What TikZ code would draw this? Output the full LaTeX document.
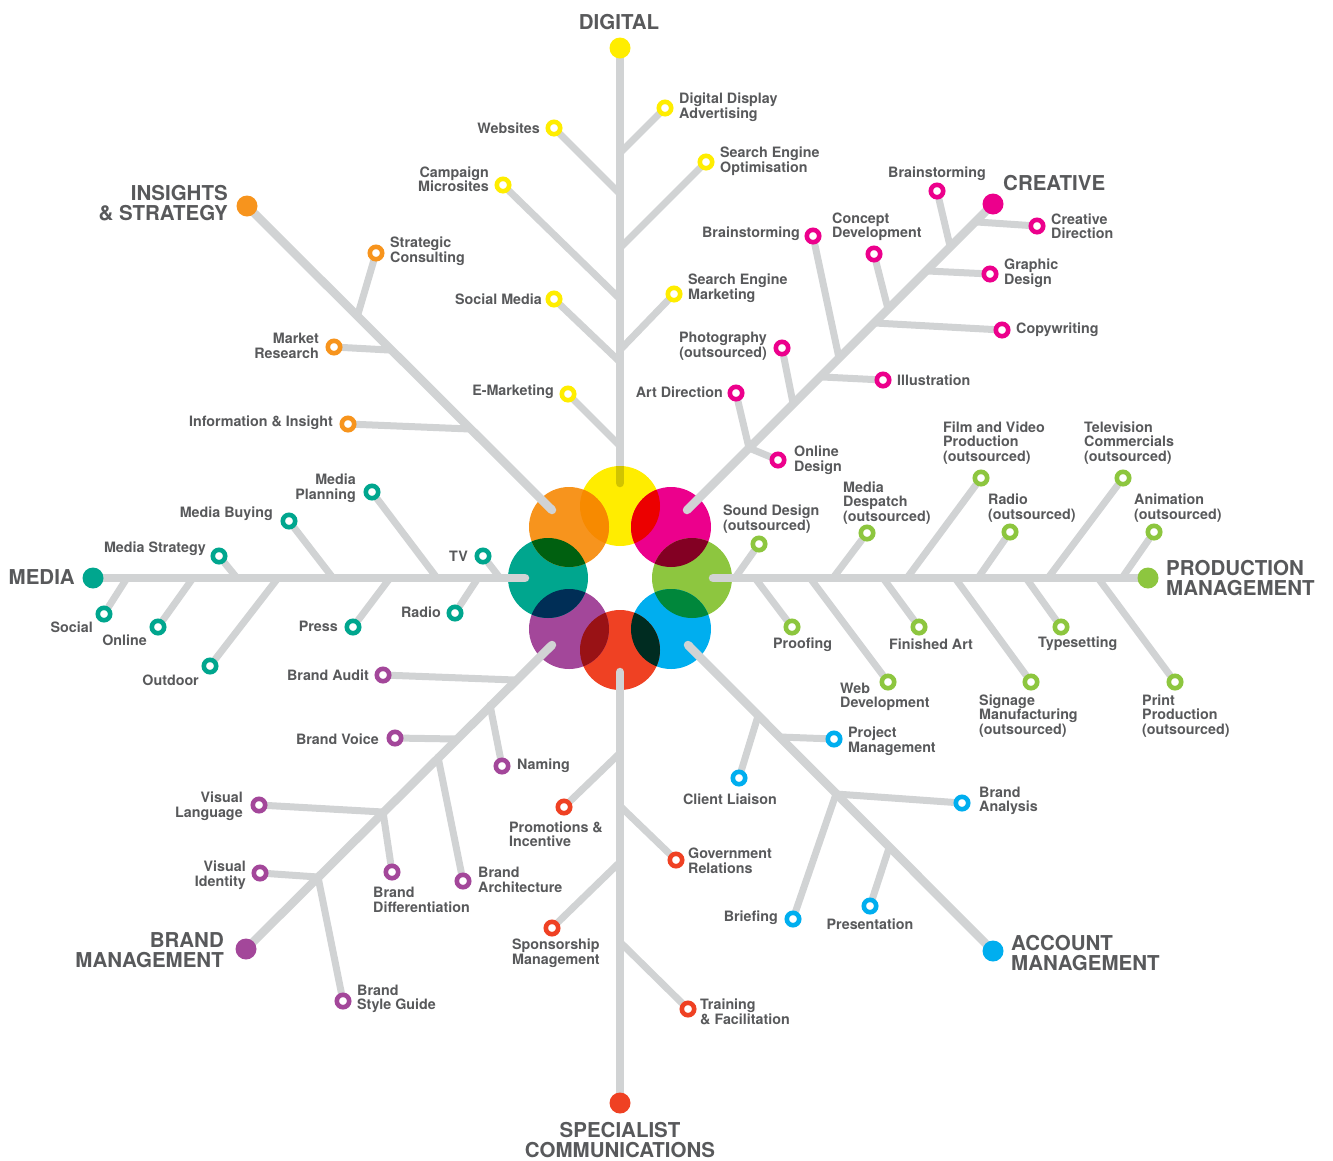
\documentclass[tikz,border=0pt]{standalone}
\usepackage{fontspec}
\setmainfont{TeX Gyre Heros}
\definecolor{ink}{RGB}{88,89,91}
\definecolor{wire}{RGB}{209,211,212}
\definecolor{cYel}{RGB}{255,237,0}
\definecolor{cPnk}{RGB}{236,0,140}
\definecolor{cGrn}{RGB}{141,198,63}
\definecolor{cBlu}{RGB}{0,174,239}
\definecolor{cRed}{RGB}{239,65,35}
\definecolor{cPur}{RGB}{163,71,154}
\definecolor{cTea}{RGB}{0,166,142}
\definecolor{cOra}{RGB}{247,148,29}
% overlap tints (product of neighbouring petal colours)
\definecolor{oYP}{RGB}{236,0,0}
\definecolor{oPG}{RGB}{131,0,35}
\definecolor{oGB}{RGB}{0,135,59}
\definecolor{oBR}{RGB}{0,44,33}
\definecolor{oRU}{RGB}{153,18,21}
\definecolor{oUT}{RGB}{0,46,86}
\definecolor{oTO}{RGB}{0,96,16}
\definecolor{oOY}{RGB}{247,138,0}
\definecolor{oWY}{RGB}{209,196,0}
\pgfdeclarelayer{base}
\pgfdeclarelayer{wires}
\pgfsetlayers{base,wires,main}
\tikzset{
  lbl/.style={font=\fontsize{14.3}{14.5}\selectfont\bfseries, text=ink, inner sep=0pt},
  ttl/.style={font=\fontsize{20.5}{20}\selectfont\bfseries, text=ink, inner sep=0pt},
  mk/.style={circle, draw=#1, fill=white, line width=4.6pt, minimum size=12.4pt, inner sep=0pt},
  hub/.style={circle, fill=#1, minimum size=21pt, inner sep=0pt},
  spine/.style={draw=wire, line width=8.5pt, line cap=round},
  twig/.style={draw=wire, line width=7pt, line cap=round},
}
% marker name, colour, marker position, junction on the spine
\newcommand\addleaf[4]{%
  \node[mk=#2] (#1) at (#3) {};
  \coordinate (#1-j) at (#4);
  \begin{pgfonlayer}{wires}\draw[twig] (#1-j) -- (#1);\end{pgfonlayer}}
\begin{document}
\begin{tikzpicture}[x=1pt,y=-1pt]
\useasboundingbox (0,0) rectangle (1333,1160);

% ---------- centre flower ----------
\coordinate (pY) at (620,506);
\coordinate (pP) at (671,527);
\coordinate (pG) at (692,578);
\coordinate (pB) at (671,629);
\coordinate (pR) at (620,650);
\coordinate (pU) at (569,629);
\coordinate (pT) at (548,578);
\coordinate (pO) at (569,527);

% ---------- hubs and spine ends ----------
\node[hub=cYel] (dig) at (620,48) {};
\coordinate (dig-e) at (620,483);
\node[hub=cPnk] (cre) at (993,204) {};
\coordinate (cre-e) at (687,510);
\node[hub=cGrn] (pro) at (1148,578) {};
\coordinate (pro-e) at (713,578);
\node[hub=cBlu] (acc) at (993,951) {};
\coordinate (acc-e) at (688,645);
\node[hub=cRed] (spe) at (620,1103) {};
\coordinate (spe-e) at (620,672);
\node[hub=cPur] (bra) at (246,949) {};
\coordinate (bra-e) at (552,645);
\node[hub=cTea] (med) at (93,578) {};
\coordinate (med-e) at (525,578);
\node[hub=cOra] (ins) at (247,206) {};
\coordinate (ins-e) at (552,510);

\begin{pgfonlayer}{base}
  \draw[spine] (dig) -- (dig-e);
  \fill[cYel] (pY) circle[radius=40pt];
  \fill[cPnk] (pP) circle[radius=40pt];
  \fill[cGrn] (pG) circle[radius=40pt];
  \fill[cBlu] (pB) circle[radius=40pt];
  \fill[cRed] (pR) circle[radius=40pt];
  \fill[cPur] (pU) circle[radius=40pt];
  \fill[cTea] (pT) circle[radius=40pt];
  \fill[cOra] (pO) circle[radius=40pt];
  \foreach \a/\b/\c in {pY/pP/oYP, pP/pG/oPG, pG/pB/oGB, pB/pR/oBR,
                        pR/pU/oRU, pU/pT/oUT, pT/pO/oTO, pO/pY/oOY}{
    \begin{scope}
      \clip (\a) circle[radius=40pt];
      \fill[\c] (\b) circle[radius=40pt];
    \end{scope}}
  \begin{scope}
    \clip (pY) circle[radius=40pt];
    \draw[spine, draw=oWY] (dig) -- (dig-e);
  \end{scope}
\end{pgfonlayer}

\begin{pgfonlayer}{wires}
  \draw[spine] (cre) -- (cre-e);
  \draw[spine] (pro) -- (pro-e);
  \draw[spine] (acc) -- (acc-e);
  \draw[spine] (spe) -- (spe-e);
  \draw[spine] (bra) -- (bra-e);
  \draw[spine] (med) -- (med-e);
  \draw[spine] (ins) -- (ins-e);
\end{pgfonlayer}

% ---------- DIGITAL ----------
\node[ttl] (t-dig) at (619,22) {DIGITAL};
\addleaf{dda}{cYel}{665,108}{620,153}
\addleaf{web}{cYel}{554,128}{620,194}
\addleaf{seo}{cYel}{706,162}{620,248}
\addleaf{cms}{cYel}{503,185}{620,299}
\addleaf{smd}{cYel}{554,299}{620,362}
\addleaf{sem}{cYel}{674,294}{620,350}
\addleaf{emk}{cYel}{568,394}{620,446}
\node[lbl, anchor=west, align=left] (t-dda) at (679,107) {Digital Display\\Advertising};
\node[lbl, anchor=east] (t-web) at (540,128) {Websites};
\node[lbl, anchor=west, align=left] (t-seo) at (720,161) {Search Engine\\Optimisation};
\node[lbl, anchor=east, align=right] (t-cms) at (489,179) {Campaign\\Microsites};
\node[lbl, anchor=east] (t-smd) at (542,299) {Social Media};
\node[lbl, anchor=west, align=left] (t-sem) at (688,288) {Search Engine\\Marketing};
\node[lbl, anchor=east] (t-emk) at (554,392) {E-Marketing};

% ---------- INSIGHTS & STRATEGY ----------
\node[ttl, anchor=east, align=right] (t-ins) at (228,203) {INSIGHTS\\\& STRATEGY};
\addleaf{stc}{cOra}{376,253}{358,314}
\addleaf{mre}{cOra}{334,347}{389,350}
\addleaf{inf}{cOra}{348,424}{470,429}
\node[lbl, anchor=west, align=left] (t-stc) at (390,251) {Strategic\\Consulting};
\node[lbl, anchor=east, align=right] (t-mre) at (319,346) {Market\\Research};
\node[lbl, anchor=east] (t-inf) at (333,423) {Information \& Insight};

% ---------- CREATIVE ----------
\node[ttl, anchor=west] (t-cre) at (1003,183) {CREATIVE};
\addleaf{bsa}{cPnk}{937,191}{950,246}
\addleaf{cdi}{cPnk}{1037,226}{977,222}
\addleaf{gde}{cPnk}{990,274}{928,271}
\addleaf{cde}{cPnk}{874,254}{888,309}
\addleaf{cpw}{cPnk}{1002,330}{875,323}
\addleaf{bsb}{cPnk}{813,236}{839,358}
\addleaf{ill}{cPnk}{883,380}{823,377}
\addleaf{pho}{cPnk}{782,348}{793,403}
\addleaf{adi}{cPnk}{736,393}{749,448}
\addleaf{ode}{cPnk}{778,460}{749,448}
\node[lbl] (t-bsa) at (937,174) {Brainstorming};
\node[lbl, anchor=west, align=left] (t-cdi) at (1051,226) {Creative\\Direction};
\node[lbl, anchor=west, align=left] (t-gde) at (1004,273) {Graphic\\Design};
\node[lbl, anchor=west, align=left] (t-cde) at (832,227) {Concept\\Development};
\node[lbl, anchor=west] (t-cpw) at (1016,330) {Copywriting};
\node[lbl, anchor=east] (t-bsb) at (800,234) {Brainstorming};
\node[lbl, anchor=west] (t-ill) at (897,380) {Illustration};
\node[lbl, anchor=east, align=right] (t-pho) at (767,346) {Photography\\(outsourced)};
\node[lbl, anchor=east] (t-adi) at (723,392) {Art Direction};
\node[lbl, anchor=west, align=left] (t-ode) at (794,460) {Online\\Design};

% ---------- PRODUCTION MANAGEMENT ----------
\node[ttl, anchor=west, align=left] (t-pro) at (1166,578) {PRODUCTION\\MANAGEMENT};
\addleaf{snd}{cGrn}{759,544}{735,578}
\addleaf{mds}{cGrn}{867,533}{833,578}
\addleaf{fvp}{cGrn}{981,478}{907,578}
\addleaf{rdo}{cGrn}{1010,532}{978,578}
\addleaf{tvc}{cGrn}{1123,478}{1048,578}
\addleaf{ani}{cGrn}{1154,532}{1122,578}
\addleaf{prf}{cGrn}{792,627}{755,578}
\addleaf{wdv}{cGrn}{888,682}{810,578}
\addleaf{fart}{cGrn}{919,627}{883,578}
\addleaf{sgn}{cGrn}{1031,682}{955,578}
\addleaf{tys}{cGrn}{1061,627}{1026,578}
\addleaf{ppr}{cGrn}{1175,682}{1098,578}
\node[lbl, anchor=west, align=left] (t-snd) at (723,519) {Sound Design\\(outsourced)};
\node[lbl, anchor=west, align=left] (t-mds) at (843,503) {Media\\Despatch\\(outsourced)};
\node[lbl, anchor=west, align=left] (t-fvp) at (943,443) {Film and Video\\Production\\(outsourced)};
\node[lbl, anchor=west, align=left] (t-rdo) at (988,508) {Radio\\(outsourced)};
\node[lbl, anchor=west, align=left] (t-tvc) at (1084,443) {Television\\Commercials\\(outsourced)};
\node[lbl, anchor=west, align=left] (t-ani) at (1134,508) {Animation\\(outsourced)};
\node[lbl, anchor=west] (t-prf) at (773,645) {Proofing};
\node[lbl, anchor=west] (t-fart) at (889,644) {Finished Art};
\node[lbl, anchor=west] (t-tys) at (1038,644) {Typesetting};
\node[lbl, anchor=west, align=left] (t-wdv) at (840,697) {Web\\Development};
\node[lbl, anchor=west, align=left] (t-sgn) at (979,716) {Signage\\Manufacturing\\(outsourced)};
\node[lbl, anchor=west, align=left] (t-ppr) at (1142,716) {Print\\Production\\(outsourced)};

% ---------- ACCOUNT MANAGEMENT ----------
\node[ttl, anchor=west, align=left] (t-acc) at (1011,953) {ACCOUNT\\MANAGEMENT};
\addleaf{pmg}{cBlu}{834,739}{780,737}
\addleaf{cli}{cBlu}{739,778}{758,716}
\addleaf{ban}{cBlu}{962,803}{836,794}
\addleaf{bri}{cBlu}{793,919}{836,794}
\addleaf{pre}{cBlu}{870,906}{889,848}
\node[lbl, anchor=west, align=left] (t-pmg) at (848,741) {Project\\Management};
\node[lbl] (t-cli) at (730,799) {Client Liaison};
\node[lbl, anchor=west, align=left] (t-ban) at (979,801) {Brand\\Analysis};
\node[lbl, anchor=east] (t-bri) at (778,918) {Briefing};
\node[lbl] (t-pre) at (870,924) {Presentation};

% ---------- SPECIALIST COMMUNICATIONS ----------
\node[ttl, align=center] (t-spe) at (620,1140) {SPECIALIST\\COMMUNICATIONS};
\addleaf{pin}{cRed}{564,807}{620,753}
\addleaf{gov}{cRed}{676,860}{620,806}
\addleaf{spo}{cRed}{552,928}{620,862}
\addleaf{trf}{cRed}{688,1009}{620,942}
\node[lbl, anchor=west, align=left] (t-pin) at (509,834) {Promotions \&\\Incentive};
\node[lbl, anchor=west, align=left] (t-gov) at (688,861) {Government\\Relations};
\node[lbl, anchor=west, align=left] (t-spo) at (512,953) {Sponsorship\\Management};
\node[lbl, anchor=west, align=left] (t-trf) at (700,1012) {Training\\\& Facilitation};

% ---------- BRAND MANAGEMENT ----------
\node[ttl, anchor=east, align=right] (t-bra) at (224,950) {BRAND\\MANAGEMENT};
\addleaf{bau}{cPur}{383,675}{515,680}
\addleaf{bvo}{cPur}{395,738}{456,739}
\addleaf{nam}{cPur}{502,766}{490,705}
\addleaf{vla}{cPur}{259,805}{383,812}
\addleaf{bdf}{cPur}{392,872}{383,812}
\addleaf{bar}{cPur}{463,881}{438,757}
\addleaf{vid}{cPur}{260,873}{318,877}
\addleaf{bsg}{cPur}{343,1001}{318,877}
\node[lbl, anchor=east] (t-bau) at (369,675) {Brand Audit};
\node[lbl, anchor=east] (t-bvo) at (379,739) {Brand Voice};
\node[lbl, anchor=west] (t-nam) at (517,766) {Naming};
\node[lbl, anchor=east, align=right] (t-vla) at (243,806) {Visual\\Language};
\node[lbl, anchor=west, align=left] (t-bdf) at (373,900) {Brand\\Differentiation};
\node[lbl, anchor=west, align=left] (t-bar) at (478,880) {Brand\\Architecture};
\node[lbl, anchor=east, align=right] (t-vid) at (246,875) {Visual\\Identity};
\node[lbl, anchor=west, align=left] (t-bsg) at (357,999) {Brand\\Style Guide};

% ---------- MEDIA ----------
\node[ttl, anchor=east] (t-med) at (75,577) {MEDIA};
\addleaf{mst}{cTea}{219,556}{237,578}
\addleaf{mby}{cTea}{289,521}{333,578}
\addleaf{mpl}{cTea}{372,492}{437,578}
\addleaf{tvs}{cTea}{483,556}{500,578}
\addleaf{soc}{cTea}{104,614}{127,578}
\addleaf{onl}{cTea}{158,627}{193,578}
\addleaf{out}{cTea}{210,666}{278,578}
\addleaf{prs}{cTea}{353,627}{390,578}
\addleaf{rad}{cTea}{455,613}{478,578}
\node[lbl, anchor=east] (t-mst) at (206,549) {Media Strategy};
\node[lbl, anchor=east] (t-mby) at (273,514) {Media Buying};
\node[lbl, anchor=east, align=right] (t-mpl) at (356,488) {Media\\Planning};
\node[lbl, anchor=east] (t-tvs) at (468,556) {TV};
\node[lbl, anchor=east] (t-soc) at (93,627) {Social};
\node[lbl, anchor=east] (t-onl) at (147,640) {Online};
\node[lbl, anchor=east] (t-out) at (199,680) {Outdoor};
\node[lbl, anchor=east] (t-prs) at (338,626) {Press};
\node[lbl, anchor=east] (t-rad) at (441,612) {Radio};
\end{tikzpicture}
\end{document}
